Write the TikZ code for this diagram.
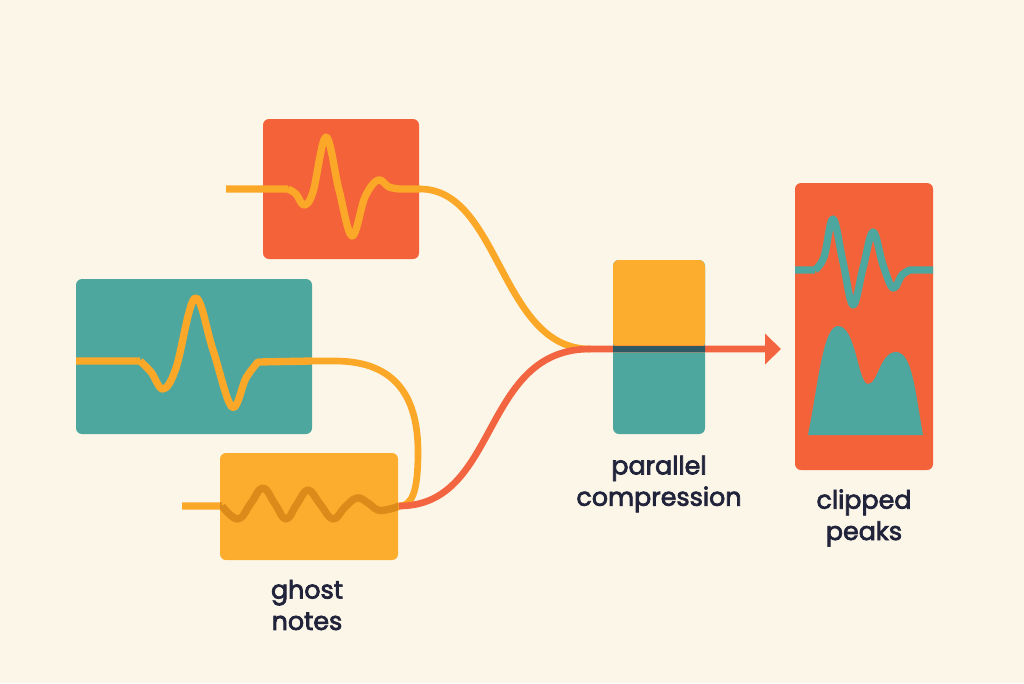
\documentclass[tikz,border=0pt]{standalone}
\usepackage{fontspec}
\setmainfont{Poppins}
\newfontfamily\lblfont{Poppins}[FakeBold=2.8]
\usetikzlibrary{arrows.meta}
\definecolor{bg}{HTML}{FCF6E8}
\definecolor{cred}{HTML}{F4623A}
\definecolor{cteal}{HTML}{4EA79F}
\definecolor{corange}{HTML}{FCAD2D}
\definecolor{lorange}{HTML}{FBA828}
\definecolor{lred}{HTML}{F26540}
\definecolor{dorange}{HTML}{DC8A1A}
\definecolor{dband}{HTML}{2F5A63}
\definecolor{ctext}{HTML}{20233A}
\tikzset{
  box/.style={rounded corners=4.5pt, inner sep=0pt, outer sep=0pt},
  oline/.style={draw=lorange, line width=5pt, line cap=round, line join=round},
  wline/.style={draw=lorange, line width=5.5pt, line cap=butt, line join=round},
  rline/.style={draw=lred, line width=5pt, line join=round},
  tline/.style={draw=cteal, line width=5.5pt, line cap=butt, line join=round},
  lbl/.style={text=ctext, align=center, font=\lblfont\fontsize{19}{23.5}\selectfont, inner sep=0pt}
}
\begin{document}
\begin{tikzpicture}[x=0.75pt,y=-0.75pt]
\fill[bg] (0,0) rectangle (1024,683);
\useasboundingbox (0,0) rectangle (1024,683);

% boxes
\node[box, fill=cred, minimum width=117pt, minimum height=105pt] (rb) at (341,189) {};
\node[box, fill=cteal, minimum width=177pt, minimum height=116.25pt] (tb) at (194,356.5) {};
\node[box, fill=corange, minimum width=133.5pt, minimum height=80.25pt] (gb) at (309,506.5) {};
\node[box, fill=cteal, minimum width=69pt, minimum height=130.5pt,
  path picture={\fill[corange] (path picture bounding box.north west) rectangle ([yshift=-0.75pt]path picture bounding box.east);}] (pc) at (659,347) {};
\node[box, fill=cred, minimum width=103.5pt, minimum height=215.25pt] (cb) at (864,326.5) {};

% coordinates
\coordinate (rin) at (226,189);
\coordinate (rout) at (420,189);
\coordinate (tin) at (76,361);
\coordinate (tout) at (312,361);
\coordinate (gin) at (182,506);
\coordinate (gout) at (399,506);
\coordinate (j) at (590,349);
\coordinate (tip) at (781,349);

% connectors (under)
\draw[oline] (rout) .. controls (500,189) and (500,349) .. (j);
\draw[oline] (tout) -- (335,361) .. controls (398,361) and (418,400) .. (418,452) .. controls (418,492) and (412,506) .. (gout);

% red box wave
\draw[wline] (rin) -- (288,189)
  plot[smooth, tension=0.6] coordinates {(288,189) (296,194) (304,205) (313,192) (326,137) (339,190) (352,236) (365,197) (378,180) (389,187) (400,189)} -- (rout);

% teal box wave
\draw[wline] (tin) -- (140,361)
  plot[smooth, tension=0.6] coordinates {(140,361) (151,372) (163,389) (176,368) (195,298) (213,350) (232,407) (246,378) (258,362)} -- (tout);

% ghost wave
\def\gwave{(gin) -- (222,506) plot[smooth, tension=0.7] coordinates {(222,506) (238,519) (251,503) (263,488) (275,504) (286,519) (297,504) (308,490) (320,504) (333,519) (345,507) (357,498) (368,503) (378,510) (390,509) (399,506)}}
\draw[wline] \gwave;
\begin{scope}
  \clip (220,453) rectangle (398,560);
  \draw[draw=dorange, line width=5.5pt, line join=round] \gwave;
\end{scope}

% red connector
\draw[rline] (gout) .. controls (500,506) and (480,349) .. (j) -- (766,349);
\draw[draw=lred, line width=5pt, -{Triangle[length=12pt, width=22.5pt]}] (750,349) -- (tip);
\begin{scope}
  \clip (613,300) rectangle (705,400);
  \draw[draw=dband, line width=5pt] (j) -- (tip);
\end{scope}

% clipped peaks content
\draw[tline] (795,270) -- (815,270)
  plot[smooth, tension=0.6] coordinates {(815,270) (824,257) (833,219) (843,262) (853,305) (863,268) (873,232) (883,265) (893,288) (902,275) (910,270)} -- (933,270);
\fill[cteal] (808,435) .. controls (818,385) and (823,326) .. (838,326) .. controls (856,326) and (858,384) .. (868,384) .. controls (878,384) and (880,352) .. (896,352) .. controls (912,352) and (915,390) .. (923,435) -- cycle;

% labels
\node[lbl] (lg) at (307,605) {ghost\\notes};
\node[lbl] (lp) at (659,484) {parallel\\compression};
\node[lbl] (lc) at (864,518) {clipped\\peaks};
\end{tikzpicture}
\end{document}
